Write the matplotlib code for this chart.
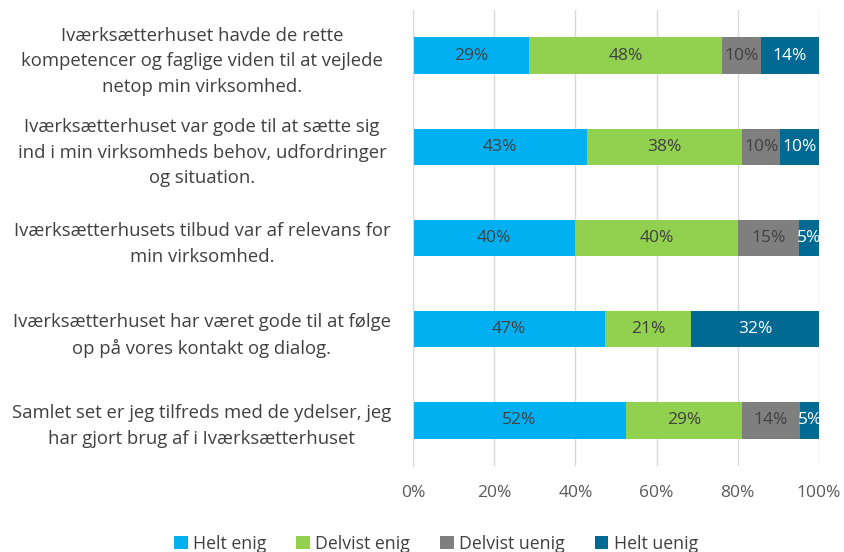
import matplotlib
matplotlib.use("Agg")
import matplotlib.pyplot as plt
import numpy as np

plt.rcParams['font.family'] = ['Open Sans', 'DejaVu Sans']

categories = [
    "Iværksætterhuset havde de rette\nkompetencer og faglige viden til at vejlede\nnetop min virksomhed.",
    "Iværksætterhuset var gode til at sætte sig\nind i min virksomheds behov, udfordringer\nog situation.",
    "Iværksætterhusets tilbud var af relevans for\nmin virksomhed.",
    "Iværksætterhuset har været gode til at følge\nop på vores kontakt og dialog.",
    "Samlet set er jeg tilfreds med de ydelser, jeg\nhar gjort brug af i Iværksætterhuset",
]
series_names = ["Helt enig", "Delvist enig", "Delvist uenig", "Helt uenig"]
helt_enig = [28.6, 42.9, 40.0, 47.4, 52.4]
delvist_enig = [47.6, 38.1, 40.0, 21.1, 28.6]
delvist_uenig = [9.5, 9.5, 15.0, 0.0, 14.3]
helt_uenig = [14.3, 9.5, 5.0, 31.6, 4.8]
xticks = [0, 20, 40, 60, 80, 100]

colors = ["#00B0F0", "#92D050", "#7F7F7F", "#006A93"]
text_colors = ["#404040", "#404040", "#404040", "white"]

fig = plt.figure(figsize=(8.44, 5.52), dpi=100)
ax = fig.add_axes([413/844, 1-466/552, (819-413)/844, (466-10)/552])

y = np.arange(len(categories))
data = [helt_enig, delvist_enig, delvist_uenig, helt_uenig]
left = np.zeros(len(categories))
for vals, name, c, tc in zip(data, series_names, colors, text_colors):
    vals = np.array(vals)
    ax.barh(y, vals, left=left, height=0.4, color=c, label=name, zorder=3)
    for yi, (l, v) in enumerate(zip(left, vals)):
        if v > 0:
            ax.text(l + v/2, yi, f"{round(v):.0f}%", ha='center', va='center',
                    fontsize=12.5, color=tc, zorder=4)
    left += vals

ax.set_xlim(0, 100)
ax.set_ylim(len(categories) - 0.5, -0.5)
ax.set_xticks(xticks)
ax.set_xticklabels([f"{t}%" for t in xticks], fontsize=12.5, color="#595959")
ax.set_yticks(y)
ax.set_yticklabels(categories, fontsize=13.3, color="#404040", ha='center',
                   linespacing=1.55)
ax.tick_params(axis='y', length=0, pad=152)
ax.tick_params(axis='x', length=0, pad=14)
ax.grid(axis='x', color='#D9D9D9', linewidth=1, zorder=0)
for s in ['top', 'right', 'bottom']:
    ax.spines[s].set_visible(False)
ax.spines['left'].set_color('#D9D9D9')
ax.spines['left'].set_zorder(5)

leg = fig.legend(loc='center', bbox_to_anchor=(436/844, 1-544/552), ncol=4,
                 frameon=False, fontsize=12.8, handlelength=0.75, handleheight=0.75,
                 handletextpad=0.3, columnspacing=1.7, labelcolor="#404040")

fig.savefig("out.png", dpi=100)
